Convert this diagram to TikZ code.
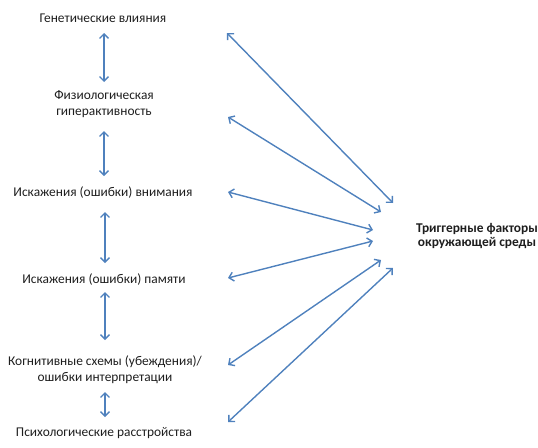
\documentclass[tikz,border=0pt]{standalone}
\usepackage{fontspec}
\setmainfont{Carlito}
\usetikzlibrary{arrows.meta}
\definecolor{arrblue}{RGB}{79,129,189}
\definecolor{txt}{RGB}{30,30,30}
\tikzset{
  lbl/.style={inner sep=0pt, align=center, text=txt, font=\fontsize{13.4}{16}\selectfont},
  trig/.style={inner sep=0pt, align=center, text=txt, font=\fontsize{13.4}{13.5}\selectfont\bfseries},
  arr/.style={draw=arrblue, line width=1.4pt, {Straight Barb[length=4.5pt,width=9pt]}-{Straight Barb[length=4.5pt,width=9pt]}},
}
\begin{document}
\begin{tikzpicture}[x=1pt,y=-1pt]
\useasboundingbox (0,0) rectangle (538,447);
\node[lbl] (g) at (103,18) {Генетические влияния};
\node[lbl] (f) at (104,104) {Физиологическая\\гиперактивность};
\node[lbl] (v) at (103,193) {Искажения (ошибки) внимания};
\node[lbl] (p) at (104,280) {Искажения (ошибки) памяти};
\node[lbl] (k) at (105,370) {Когнитивные схемы (убеждения)/\\ошибки интерпретации};
\node[lbl] (s) at (104,433) {Психологические расстройства};
\node[trig] (t) at (477,236) {Триггерные факторы\\окружающей среды};
% vertical arrows
\draw[arr] ([xshift=1pt,yshift=-15pt]g.center) -- ([yshift=22pt]f.center);
\draw[arr] ([yshift=-27pt]f.center) -- ([xshift=1pt,yshift=17pt]v.center);
\draw[arr] ([xshift=2pt,yshift=-19pt]v.center) -- ([xshift=1pt,yshift=17pt]p.center);
\draw[arr] ([xshift=1pt,yshift=-12pt]p.center) -- ([yshift=30pt]k.center);
\draw[arr] ([yshift=-22pt]k.center) -- ([xshift=1pt,yshift=16pt]s.center);
% diagonal arrows
\coordinate (l1) at (227,33);  \coordinate (r1) at (393,203);
\coordinate (l2) at (228,117); \coordinate (r2) at (381,212);
\coordinate (l3) at (228,192); \coordinate (r3) at (373,230);
\coordinate (l4) at (228,278); \coordinate (r4) at (373,241);
\coordinate (l5) at (228,365); \coordinate (r5) at (381,260);
\coordinate (l6) at (228,422); \coordinate (r6) at (393,268);
\foreach \i in {1,...,6} \draw[arr] (l\i) -- (r\i);
\end{tikzpicture}
\end{document}
